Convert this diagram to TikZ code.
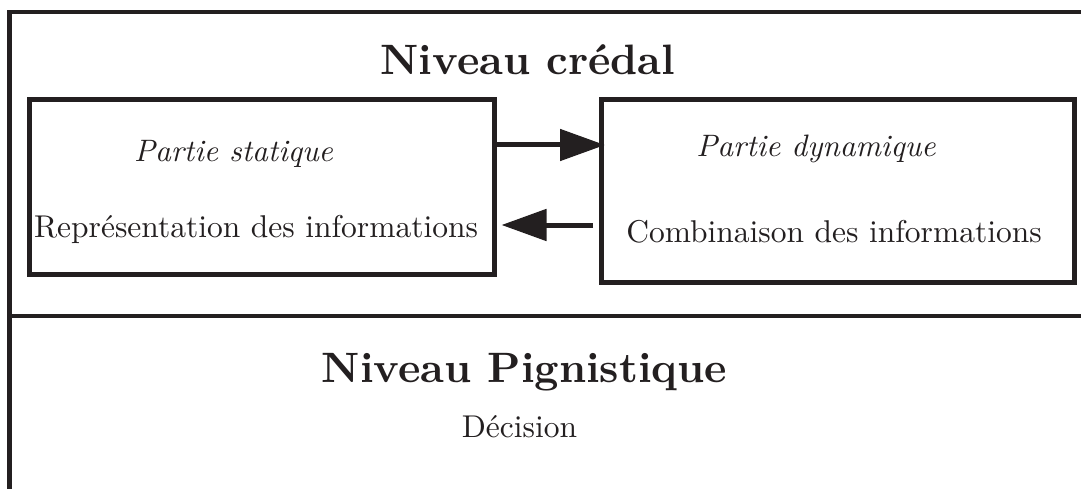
\documentclass[tikz,border=0pt]{standalone}
\usepackage{fontspec}
\newfontfamily\lmtenrm{lmroman10-regular.otf}
\newfontfamily\lmtenit{lmroman10-italic.otf}
\newfontfamily\lmtenbf{lmroman10-bold.otf}
\usetikzlibrary{arrows.meta}
\definecolor{ink}{HTML}{231F20}
\begin{document}
\begin{tikzpicture}[x=1pt,y=-1pt,
  frame/.style={draw=ink,line width=4.5pt,line join=miter},
  boxnode/.style={draw=ink,line width=5pt,inner sep=0pt,outer sep=0pt},
  body/.style={text=ink,inner sep=0pt,anchor=base,font=\lmtenrm\fontsize{31.5}{36}\selectfont},
  ital/.style={text=ink,inner sep=0pt,anchor=base,font=\lmtenit\fontsize{31}{36}\selectfont},
  title/.style={text=ink,inner sep=0pt,anchor=base,font=\lmtenbf\fontsize{42.5}{50}\selectfont},
  flow/.style={draw=ink,line width=5pt,-{Triangle[length=45pt,width=31pt]}}]
\useasboundingbox (0,0) rectangle (1081,489);
% outer frame
\coordinate (tr) at (1081,12);
\coordinate (tl) at (9.5,12);
\coordinate (bl) at (9.5,489);
\coordinate (ml) at (9.5,316);
\coordinate (mr) at (1081,316);
\draw[frame] (tr) -- (tl) -- (bl);
\draw[frame] (ml) -- (mr);
% titles
\node[title] (t1) at (528,75) {Niveau crédal};
\node[title] (t2) at (524.5,382) {Niveau Pignistique};
\node[body] (dec) at (519.5,437) {Décision};
% boxes
\node[boxnode,minimum width=464.5pt,minimum height=175pt] (lbox) at (261.75,187) {};
\node[boxnode,minimum width=472.3pt,minimum height=182pt] (rbox) at (837.85,191) {};
\node[ital] (ps) at (233.5,162) {Partie statique};
\node[body] (rep) at (256,237) {Représentation des informations};
\node[ital] (pd) at (816,157) {Partie dynamique};
\node[body] (comb) at (834,242) {Combinaison des informations};
% arrows
\coordinate (a1s) at (497,145);
\coordinate (a1e) at (605,145);
\coordinate (a2s) at (593,225);
\coordinate (a2e) at (501.5,225);
\draw[flow] (a1s) -- (a1e);
\draw[flow] (a2s) -- (a2e);
\end{tikzpicture}
\end{document}
